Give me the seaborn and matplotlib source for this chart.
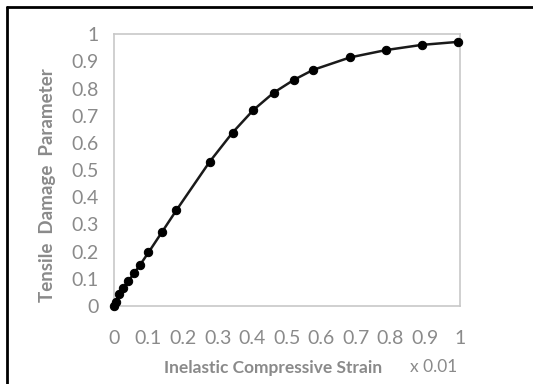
import matplotlib
matplotlib.use("Agg")
import matplotlib.pyplot as plt
import seaborn as sns
import pandas as pd
from matplotlib.lines import Line2D

strain = [0.0, 0.005, 0.015, 0.027, 0.042, 0.058, 0.075, 0.10, 0.14, 0.181,
          0.277, 0.343, 0.403, 0.462, 0.520, 0.576, 0.683, 0.787, 0.890, 0.994]
damage = [0.0, 0.015, 0.045, 0.065, 0.092, 0.120, 0.150, 0.197, 0.274, 0.353,
          0.531, 0.638, 0.721, 0.785, 0.832, 0.869, 0.915, 0.942, 0.961, 0.972]
ticks = [0, 0.1, 0.2, 0.3, 0.4, 0.5, 0.6, 0.7, 0.8, 0.9, 1]
tick_labels = ["0", "0.1", "0.2", "0.3", "0.4", "0.5", "0.6", "0.7", "0.8", "0.9", "1"]

sns.set_style("white")
plt.rcParams['font.family'] = ['Lato', 'DejaVu Sans']

df = pd.DataFrame({"strain": strain, "damage": damage})

fig = plt.figure(figsize=(5.33, 3.84), dpi=100)
ax = fig.add_axes([113.9 / 533, 1 - 306 / 384, (459.7 - 113.9) / 533, (306 - 34.3) / 384])

sns.lineplot(data=df, x="strain", y="damage", ax=ax, color="#1a1a1a", linewidth=1.8,
             marker="o", markersize=6, markerfacecolor="black", markeredgecolor="black",
             clip_on=False, zorder=5)

ax.set_xlim(0, 1)
ax.set_ylim(0, 1)
ax.set_xticks(ticks)
ax.set_xticklabels(tick_labels)
ax.set_yticks(ticks)
ax.set_yticklabels(tick_labels)
grey = "#8a8a8a"
ax.tick_params(axis="both", length=0, labelsize=14, labelcolor=grey)
ax.tick_params(axis="y", pad=11)
ax.tick_params(axis="x", pad=17)
for s in ax.spines.values():
    s.set_visible(True)
    s.set_color("#c8c8c8")
    s.set_linewidth(1.2)
ax.set_xlabel("")
ax.set_ylabel("Tensile  Damage  Parameter", fontsize=13.5, fontweight="bold", color=grey)
ax.yaxis.set_label_coords((56 - 113.9) / 345.8, (306 - 185) / 271.7)

fig.text(273 / 533, 1 - 368 / 384, "Inelastic Compressive Strain", ha="center", va="center",
         fontsize=12.5, fontweight="bold", color=grey)
fig.text(434 / 533, 1 - 367 / 384, "x 0.01", ha="center", va="center",
         fontsize=12.5, color=grey)

# outer frame (top and left edges visible)
fig.add_artist(Line2D([6.8 / 533, 6.8 / 533], [0, 1 - 6.8 / 384], transform=fig.transFigure,
                      color="black", linewidth=2.0))
fig.add_artist(Line2D([6.8 / 533, 1], [1 - 6.8 / 384, 1 - 6.8 / 384], transform=fig.transFigure,
                      color="black", linewidth=2.0))

fig.savefig("out.png", dpi=100)
